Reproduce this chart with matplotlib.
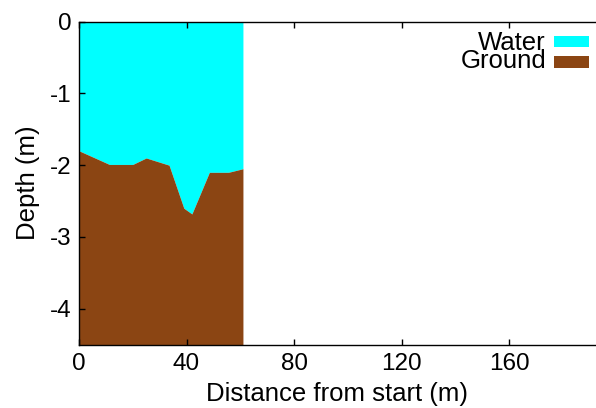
import numpy as np
import matplotlib.pyplot as plt
from matplotlib.patches import Rectangle

plt.rcParams['font.family'] = ['Liberation Sans', 'DejaVu Sans']
plt.rcParams['axes.unicode_minus'] = False

# ground profile
distance = [0, 11.3, 20, 25, 33.5, 39, 42, 48.5, 55.6, 61]
ground_depth = [-1.80, -1.99, -1.99, -1.90, -2.00, -2.60, -2.68, -2.10, -2.10, -2.05]

x_ticks = [0, 40, 80, 120, 160]
y_ticks = [0, -1, -2, -3, -4]

water_color = '#00ffff'
ground_color = '#8b4513'

fig = plt.figure(figsize=(5.96, 4.08), dpi=100)
ax = fig.add_axes([79 / 596, 63.5 / 408, 1 - 79 / 596, (344.5 - 21.7) / 408])

# water from surface down to the ground, ground down to the bottom of the plot
ax.fill_between(distance, 0, ground_depth, color=water_color, linewidth=0)
ax.fill_between(distance, ground_depth, -4.5, color=ground_color, linewidth=0)

ax.set_xlim(0, (596 - 79) / 2.6875)
ax.set_ylim(-4.5, 0)
ax.set_xticks(x_ticks)
ax.set_yticks(y_ticks)
ax.tick_params(direction='in', length=4, width=1, labelsize=17.5,
               top=True, right=False)
ax.tick_params(axis='x', pad=6)
ax.tick_params(axis='y', pad=5.5)
for s in ['left', 'bottom', 'top']:
    ax.spines[s].set_linewidth(1)
ax.spines['right'].set_visible(False)

ax.set_xlabel('Distance from start (m)', fontsize=18.5, labelpad=5)
ax.set_ylabel('Depth (m)', fontsize=18.5, labelpad=7)

# gnuplot style key: labels on the left, colour samples on the right
key_labels = ['Water', 'Ground']
key_colors = [water_color, ground_color]
key_y = [41.5, 62]
fig.text(546 / 596, 1 - sum(key_y) / 2 / 408, '\n'.join(key_labels),
         ha='right', va='center', multialignment='right',
         fontsize=18.5, linespacing=0.7)
for col, yp in zip(key_colors, key_y):
    yc = 1 - yp / 408
    fig.patches.append(Rectangle((554 / 596, yc - 5.5 / 408), 35 / 596, 11 / 408,
                                 transform=fig.transFigure, facecolor=col,
                                 edgecolor='none'))

fig.savefig('out.png', dpi=100)
